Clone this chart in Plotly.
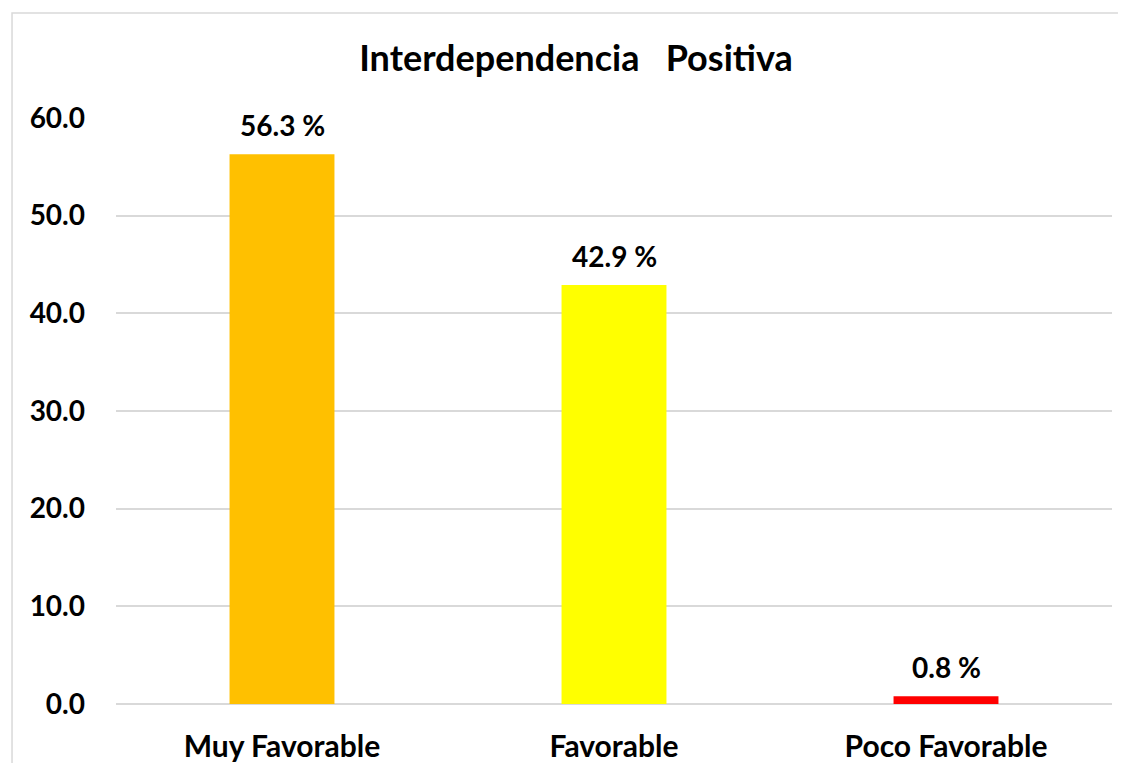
import plotly.graph_objects as go

categories = ["Muy Favorable", "Favorable", "Poco Favorable"]
values = [56.3, 42.9, 0.8]
bar_colors = ["#FFC000", "#FFFF00", "#FF0000"]
value_labels = ["56.3 %", "42.9 %", "0.8 %"]
y_ticks = [0, 10, 20, 30, 40, 50, 60]

FONT = "Lato"

fig = go.Figure()
fig.add_trace(
    go.Bar(
        x=categories,
        y=values,
        marker=dict(color=bar_colors, line=dict(width=0)),
        width=0.316,
        showlegend=False,
        hoverinfo="skip",
    )
)

for cat, val, lab in zip(categories, values, value_labels):
    fig.add_annotation(
        x=cat,
        y=val,
        text=lab,
        showarrow=False,
        yanchor="bottom",
        yshift=10,
        font=dict(family=FONT, size=28, color="black", weight="bold"),
    )

# outer chart border: only left and top edges are inside the window
fig.add_shape(
    type="path",
    xref="paper",
    yref="paper",
    path="M -0.1044,-0.12 L -0.1044,1.179 L 1.006,1.179",
    line=dict(color="#D9D9D9", width=1.5),
    layer="below",
)

# the page body adds an 8px offset; the figure is made smaller so no scrollbars show
fig.update_layout(
    width=1112,
    height=755,
    paper_bgcolor="white",
    plot_bgcolor="white",
    margin=dict(l=108, r=8, t=110, b=59, autoexpand=False),
    title=dict(
        text="Interdependencia   Positiva",
        x=568 / 1112,
        xref="container",
        xanchor="center",
        y=1 - 50 / 755,
        yref="container",
        yanchor="middle",
        font=dict(family=FONT, size=36, color="black", weight="bold"),
    ),
    xaxis=dict(
        showgrid=False,
        showline=False,
        ticks="",
        automargin=False,
        tickfont=dict(family=FONT, size=30, color="black", weight="bold"),
        ticklabelstandoff=22,
    ),
    yaxis=dict(
        range=[0, 60],
        tickvals=y_ticks,
        ticktext=[f"{t:.1f}" for t in y_ticks],
        showgrid=True,
        gridcolor="#D9D9D9",
        gridwidth=1.5,
        zeroline=True,
        zerolinecolor="#D9D9D9",
        zerolinewidth=1.5,
        showline=False,
        ticks="",
        automargin=False,
        ticklabelstandoff=30,
        tickfont=dict(family=FONT, size=28, color="black", weight="bold"),
    ),
    bargap=0.684,
)

fig.write_html("out.html")
